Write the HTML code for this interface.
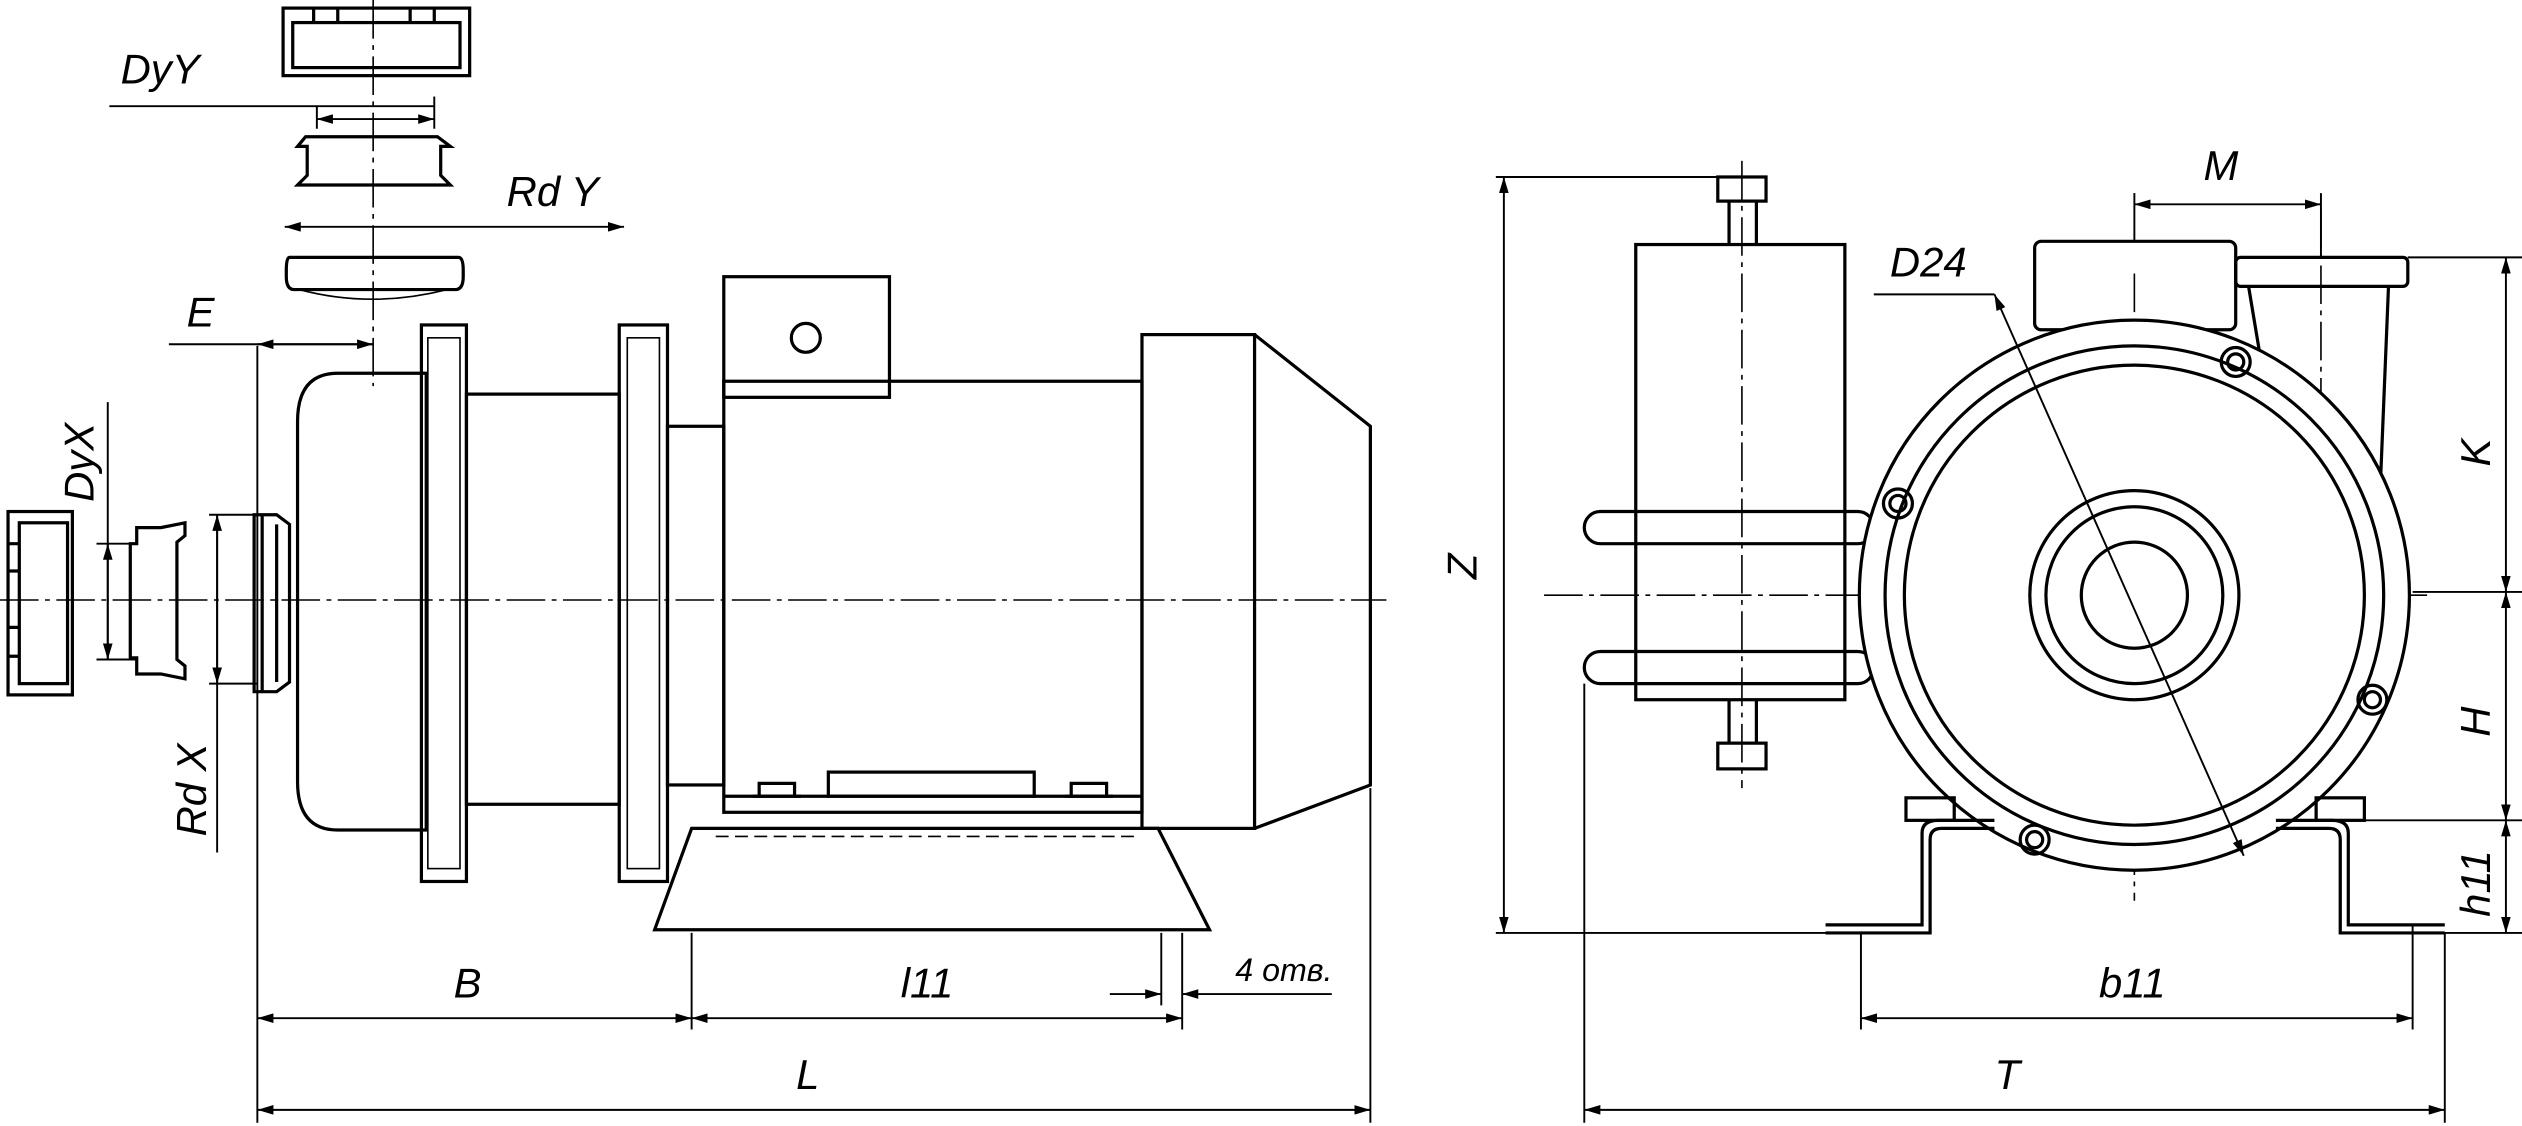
<!DOCTYPE html>
<html><head><meta charset="utf-8"><style>
html,body{margin:0;padding:0;background:#fff}
svg{display:block}
text{font-family:"Liberation Sans",sans-serif;font-style:italic;font-size:26px;fill:#000}
</style></head><body>
<svg width="2522" height="1126" viewBox="0 0 1568 700" xmlns="http://www.w3.org/2000/svg">
<defs>
<marker id="a" viewBox="0 0 10 6" refX="10" refY="3" markerWidth="10" markerHeight="6" orient="auto-start-reverse" markerUnits="userSpaceOnUse"><path d="M0,0 L10,3 L0,6 z" fill="#000"/></marker>
</defs>
<rect width="1568" height="700" fill="#fff"/>
<g fill="none" stroke="#000" stroke-width="2">
<!-- center lines -->
<g stroke-width="1" stroke-dasharray="24,4,3,4">
<line x1="0" y1="373" x2="862" y2="373"/>
<line x1="232" y1="0" x2="232" y2="240"/>
<line x1="960" y1="370" x2="1510" y2="370"/>
<line x1="1327" y1="170" x2="1327" y2="560"/>
<line x1="1083" y1="100" x2="1083" y2="490"/>
<line x1="1443" y1="130" x2="1443" y2="290"/>
</g>
<!-- top fittings -->
<rect x="176" y="5" width="116" height="42"/>
<rect x="182" y="14" width="104" height="28"/>
<path d="M195,5 v9 M210,5 v9 M255,5 v9 M270,5 v9"/>
<path d="M190,85 h82 l8,6 h-6 v18 l6,6 h-95 l6,-6 v-18 h-6 z"/>
<path d="M180,160 h105 q3,0 3,8 v4 q0,8 -5,8 h-100 q-5,0 -5,-8 v-4 q0,-8 2,-8 z"/>
<path d="M186,180 q45,12 92,0" stroke-width="1"/>
<!-- left inlet fittings -->
<rect x="5" y="318" width="40" height="114"/>
<rect x="12" y="325" width="30" height="100"/>
<path d="M5,338 h7 M5,355 h7 M5,390 h7 M5,408 h7"/>
<path d="M100,328 l15,-3 v8 l-5,4 v73 l5,4 v8 l-15,-3 h-15 v-10 h-4 v-71 h4 v-10 z"/>
<path d="M158,320 h14 l8,6 v98 l-8,6 h-14 z M163,320 v111 M172,326 v98"/>
<!-- pump head -->
<path d="M210,232 h55 v284 h-55 q-25,0 -25,-30 v-224 q0,-30 25,-30 z"/>
<rect x="262" y="202" width="28" height="346"/>
<rect x="266" y="210" width="20" height="330" stroke-width="1"/>
<rect x="290" y="245" width="95" height="255"/>
<rect x="385" y="202" width="30" height="346"/>
<rect x="390" y="210" width="20" height="330" stroke-width="1"/>
<rect x="415" y="265" width="35" height="223"/>
<!-- motor -->
<rect x="450" y="237" width="260" height="268"/>
<rect x="450" y="172" width="103" height="75"/>
<circle cx="501" cy="210" r="9"/>
<rect x="710" y="208" width="70" height="307"/>
<path d="M780,208 L852,265 V488 L780,515"/>
<rect x="515" y="480" width="128" height="15"/>
<path d="M472,495 v-8 h22 v8 M468,495 h30 M666,495 v-8 h22 v8 M662,495 h30"/>
<line x1="450" y1="495" x2="710" y2="495"/>
<path d="M430,515 H720 L752,578 H407 Z"/>
<line x1="445" y1="520" x2="705" y2="520" stroke-width="1" stroke-dasharray="8,4"/>
<!-- right: filter -->
<rect x="1017" y="152" width="130" height="283"/>
<rect x="1068" y="110" width="30" height="15"/>
<path d="M1075,125 v27 M1092,125 v27 M1075,435 v27 M1092,435 v27"/>
<rect x="1068" y="462" width="30" height="16"/>
<rect x="985" y="318" width="180" height="20" rx="10"/>
<rect x="985" y="405" width="180" height="20" rx="10"/>
<!-- motor rect -->
<rect x="1265" y="150" width="125" height="55" rx="4"/>
<!-- outlet -->
<rect x="1390" y="160" width="107" height="18" rx="3"/>
<path d="M1398,178 L1410,250 Q1420,300 1460,330 M1485,178 L1480,300"/>
<!-- volute -->
<circle cx="1327" cy="370" r="171" fill="#fff"/>
<circle cx="1327" cy="370" r="155"/>
<circle cx="1327" cy="370" r="143"/>
<circle cx="1327" cy="370" r="65"/>
<circle cx="1327" cy="370" r="55"/>
<circle cx="1327" cy="370" r="33"/>
<g>
<circle cx="1390" cy="225" r="9"/><circle cx="1390" cy="225" r="5"/>
<circle cx="1180" cy="313" r="9"/><circle cx="1180" cy="313" r="5"/>
<circle cx="1475" cy="435" r="9"/><circle cx="1475" cy="435" r="5"/>
<circle cx="1265" cy="522" r="9"/><circle cx="1265" cy="522" r="5"/>
</g>
<!-- feet -->
<path d="M1135,580 H1200 V522 Q1200,515 1207,515 H1240 M1135,575 H1195 V518 Q1195,510 1205,510 H1240"/>
<path d="M1520,580 H1455 V522 Q1455,515 1448,515 H1415 M1520,575 H1460 V518 Q1460,510 1450,510 H1415"/>
<rect x="1185" y="496" width="30" height="14"/>
<rect x="1440" y="496" width="30" height="14"/>
</g>
<!-- dimensions -->
<g fill="none" stroke="#000" stroke-width="1.2">
<line x1="68" y1="66" x2="270" y2="66"/>
<line x1="197" y1="66" x2="197" y2="80"/><line x1="270" y1="60" x2="270" y2="80"/>
<line x1="197" y1="74" x2="270" y2="74" marker-start="url(#a)" marker-end="url(#a)"/>
<line x1="177" y1="141" x2="388" y2="141" marker-start="url(#a)" marker-end="url(#a)" />
<line x1="105" y1="214" x2="232" y2="214"/>
<line x1="160" y1="214" x2="232" y2="214" marker-start="url(#a)" marker-end="url(#a)"/>
<line x1="67" y1="250" x2="67" y2="410"/>
<line x1="67" y1="338" x2="67" y2="410" marker-start="url(#a)" marker-end="url(#a)"/>
<line x1="60" y1="338" x2="85" y2="338"/><line x1="60" y1="410" x2="85" y2="410"/>
<line x1="135" y1="320" x2="135" y2="530"/>
<line x1="135" y1="320" x2="135" y2="425" marker-start="url(#a)" marker-end="url(#a)"/>
<line x1="130" y1="320" x2="160" y2="320"/><line x1="130" y1="425" x2="160" y2="425"/>
<line x1="160" y1="215" x2="160" y2="698"/>
<line x1="852" y1="490" x2="852" y2="698"/>
<line x1="430" y1="580" x2="430" y2="640"/>
<line x1="735" y1="580" x2="735" y2="640"/>
<line x1="722" y1="580" x2="722" y2="625"/>
<line x1="160" y1="633" x2="430" y2="633" marker-start="url(#a)" marker-end="url(#a)"/>
<line x1="430" y1="633" x2="735" y2="633" marker-start="url(#a)" marker-end="url(#a)"/>
<line x1="160" y1="690" x2="852" y2="690" marker-start="url(#a)" marker-end="url(#a)"/>
<line x1="690" y1="618" x2="722" y2="618" marker-end="url(#a)"/>
<line x1="828" y1="618" x2="735" y2="618" marker-end="url(#a)"/>
<!-- right dims -->
<line x1="930" y1="110" x2="1090" y2="110"/>
<line x1="930" y1="580" x2="1140" y2="580"/>
<line x1="935" y1="110" x2="935" y2="580" marker-start="url(#a)" marker-end="url(#a)"/>
<line x1="1327" y1="120" x2="1327" y2="150"/>
<line x1="1327" y1="127" x2="1443" y2="127" marker-start="url(#a)" marker-end="url(#a)"/>
<line x1="1443" y1="120" x2="1443" y2="160"/>
<line x1="1165" y1="183" x2="1240" y2="183"/>
<line x1="1240" y1="183" x2="1395" y2="532" marker-start="url(#a)" marker-end="url(#a)"/>
<line x1="1497" y1="160" x2="1568" y2="160"/>
<line x1="1500" y1="368" x2="1568" y2="368"/>
<line x1="1470" y1="510" x2="1568" y2="510"/>
<line x1="1520" y1="580" x2="1568" y2="580"/>
<line x1="1558" y1="160" x2="1558" y2="368" marker-start="url(#a)" marker-end="url(#a)"/>
<line x1="1558" y1="368" x2="1558" y2="510" marker-start="url(#a)" marker-end="url(#a)"/>
<line x1="1558" y1="510" x2="1558" y2="580" marker-start="url(#a)" marker-end="url(#a)"/>
<line x1="985" y1="425" x2="985" y2="698"/>
<line x1="1520" y1="580" x2="1520" y2="698"/>
<line x1="1157" y1="580" x2="1157" y2="640"/>
<line x1="1500" y1="575" x2="1500" y2="640"/>
<line x1="1157" y1="633" x2="1500" y2="633" marker-start="url(#a)" marker-end="url(#a)"/>
<line x1="985" y1="690" x2="1520" y2="690" marker-start="url(#a)" marker-end="url(#a)"/>
</g>
<text x="75" y="52">DyY</text>
<text x="315" y="128">Rd Y</text>
<text x="116" y="203">E</text>
<text transform="translate(58,312) rotate(-90)">DyX</text>
<text transform="translate(128,520) rotate(-90)">Rd X</text>
<text x="282" y="620">B</text>
<text x="560" y="620">l11</text>
<text x="495" y="677">L</text>
<text x="768" y="610" style="font-size:20px">4 отв.</text>
<text transform="translate(918,360) rotate(-90)">Z</text>
<text x="1370" y="112">M</text>
<text x="1175" y="172">D24</text>
<text transform="translate(1548,290) rotate(-90)">K</text>
<text transform="translate(1548,458) rotate(-90)">H</text>
<text transform="translate(1548,570) rotate(-90)">h11</text>
<text x="1305" y="620">b11</text>
<text x="1240" y="677">T</text>
</svg>
</body></html>
